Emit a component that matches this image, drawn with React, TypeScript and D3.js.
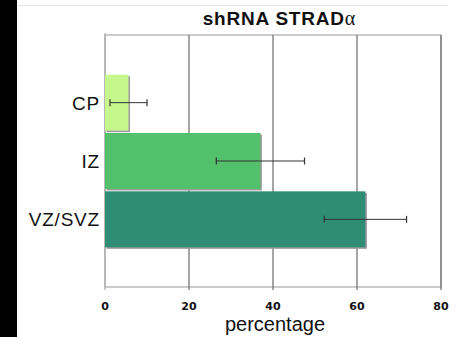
import React, { useEffect, useRef } from 'react';
import * as d3 from 'd3';

const categories = ['CP', 'IZ', 'VZ/SVZ'];
const values = [5.6, 37, 62];
const errors = [4.4, 10.5, 9.8];
const barColors = ['#c6f78c', '#53c06b', '#2f8d76'];
const xTicks = [0, 20, 40, 60, 80];

const App = () => {
  const ref = useRef<SVGSVGElement>(null);

  useEffect(() => {
    const svg = d3.select(ref.current);
    const W = 460, H = 337;
    const left = 105, right = 441, top = 35, bottom = 287;

    // black strip at the left edge
    svg.append('rect').attr('x', 0).attr('y', 0).attr('width', 17).attr('height', H).attr('fill', '#000');
    svg.append('line').attr('x1', 17).attr('x2', 448).attr('y1', 5.5).attr('y2', 5.5)
      .attr('stroke', '#e4e4e4').attr('stroke-width', 1);

    const x = d3.scaleLinear().domain([0, 80]).range([left, right]);
    const y = d3.scaleBand().domain(categories).range([top, bottom])
      .paddingInner(0.04).paddingOuter(0.68);

    const g = svg.append('g');

    // frame
    g.append('rect').attr('x', left).attr('y', top).attr('width', right - left).attr('height', bottom - top)
      .attr('fill', 'none').attr('stroke', '#aaa').attr('stroke-width', 1.2);

    // gridlines
    g.selectAll('.grid').data(xTicks.slice(1)).enter().append('line')
      .attr('x1', d => x(d)).attr('x2', d => x(d))
      .attr('y1', top).attr('y2', bottom + 3)
      .attr('stroke', '#6a6a6a').attr('stroke-width', 1.2);
    g.append('line').attr('x1', left).attr('x2', left).attr('y1', top - 2).attr('y2', bottom + 3)
      .attr('stroke', '#aaa').attr('stroke-width', 1.2);

    // bar shadows
    g.selectAll('.shadow').data(categories).enter().append('rect')
      .attr('x', left + 1.5)
      .attr('y', d => (y(d) as number) + 1.5)
      .attr('width', (d, i) => x(values[i]) - left)
      .attr('height', y.bandwidth())
      .attr('fill', '#9c9c9c');

    g.selectAll('.bar').data(categories).enter().append('rect')
      .attr('x', left)
      .attr('y', d => y(d) as number)
      .attr('width', (d, i) => x(values[i]) - left)
      .attr('height', y.bandwidth())
      .attr('fill', (d, i) => barColors[i]);

    // error bars
    categories.forEach((c, i) => {
      const cy = (y(c) as number) + y.bandwidth() / 2;
      const x0 = x(values[i] - errors[i]), x1 = x(values[i] + errors[i]);
      g.append('line').attr('x1', x0).attr('x2', x1).attr('y1', cy).attr('y2', cy)
        .attr('stroke', '#333').attr('stroke-width', 1);
      [x0, x1].forEach(xx => {
        g.append('line').attr('x1', xx).attr('x2', xx).attr('y1', cy - 3.5).attr('y2', cy + 3.5)
          .attr('stroke', '#333').attr('stroke-width', 1.2);
      });
    });

    // category labels
    g.selectAll('.cat').data(categories).enter().append('text')
      .attr('x', left - 5)
      .attr('y', d => (y(d) as number) + y.bandwidth() / 2)
      .attr('dy', '0.36em')
      .attr('text-anchor', 'end')
      .attr('font-family', 'Liberation Sans, Arial, sans-serif')
      .attr('font-size', 19)
      .attr('letter-spacing', 0.8)
      .attr('fill', '#111')
      .text(d => d);

    // x tick labels
    g.selectAll('.tick').data(xTicks).enter().append('text')
      .attr('x', d => x(d))
      .attr('y', 310)
      .attr('text-anchor', 'middle')
      .attr('font-family', 'DejaVu Sans, Verdana, sans-serif')
      .attr('font-weight', 'bold')
      .attr('font-size', 11)
      .attr('fill', '#111')
      .text(d => d);

    svg.append('text').attr('x', 275).attr('y', 331)
      .attr('text-anchor', 'middle')
      .attr('font-family', 'Liberation Sans, Arial, sans-serif')
      .attr('font-size', 20)
      .attr('fill', '#111')
      .text('percentage');

    const title = svg.append('text').attr('x', 279).attr('y', 25)
      .attr('text-anchor', 'middle')
      .attr('font-family', 'Liberation Sans, Arial, sans-serif')
      .attr('font-weight', 'bold')
      .attr('font-size', 19)
      .attr('letter-spacing', 0.8)
      .attr('fill', '#111');
    title.append('tspan').text('shRNA STRAD');
    title.append('tspan').attr('font-family', 'Liberation Serif, Times New Roman, serif')
      .attr('font-weight', 'normal').attr('font-size', 20).attr('letter-spacing', 0).text('α');

    return () => { svg.selectAll('*').remove(); };
  }, []);

  return (
    <svg ref={ref} width={460} height={337}
      style={{ position: 'absolute', left: 0, top: 0, background: '#fff' }} />
  );
};

export default App;
